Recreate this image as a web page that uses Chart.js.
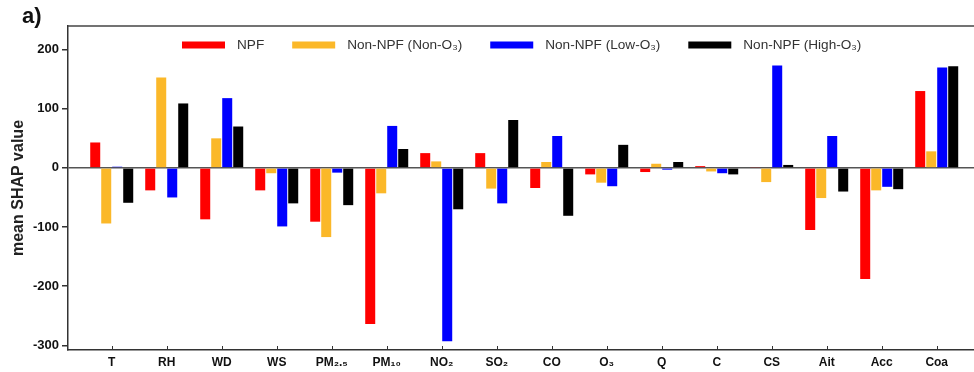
<!DOCTYPE html>
<html>
<head>
<meta charset="utf-8">
<script src="https://cdn.jsdelivr.net/npm/chart.js@4"></script>
<style>
  html, body { margin: 0; padding: 0; background: #fff; overflow: hidden; }
  #wrap { width: 974px; height: 372px; position: relative; }
</style>
</head>
<body>
<div id="wrap"><canvas id="shap"></canvas></div>
<script>
const categories = ["T", "RH", "WD", "WS", "PM₂.₅", "PM₁₀", "NO₂", "SO₂", "CO", "O₃", "Q", "C", "CS", "Ait", "Acc", "Coa"];
const seriesNames = ["NPF", "Non-NPF (Non-O₃)", "Non-NPF (Low-O₃)", "Non-NPF (High-O₃)"];
const npf    = [43, -38, -87, -38, -91, -264, 25, 25, -34, -11, -7, 3, 1, -105, -188, 130];
const nonO3  = [-94, 153, 50, -9, -117, -43, 11, -35, 10, -25, 7, -6, -24, -51, -38, 28];
const lowO3  = [2, -50, 118, -99, -8, 71, -293, -60, 54, -31, -3, -9, 173, 54, -32, 170];
const highO3 = [-59, 109, 70, -60, -63, 32, -70, 81, -81, 39, 10, -11, 5, -40, -36, 172];
const yTicks = [-300, -200, -100, 0, 100, 200];

const colors = ["#ff0000", "#fbb829", "#0000ff", "#000000"];
const allSeries = [npf, nonO3, lowO3, highO3];

const datasets = allSeries.map((vals, s) => ({
  label: seriesNames[s],
  data: vals.map((v, i) => ({ x: i, y: v })),
  backgroundColor: colors[s],
  borderWidth: 0,
  categoryPercentage: 0.8,
  barPercentage: 0.91
}));

// frame, inward x ticks, panel letter and the legend inside the plot
const extras = {
  id: "extras",
  afterDraw(chart) {
    const { ctx, chartArea } = chart;
    const xs = chart.scales.x;
    ctx.save();
    ctx.strokeStyle = "#444";
    ctx.lineWidth = 1.5;
    ctx.beginPath();
    ctx.moveTo(chartArea.left, chartArea.top);
    ctx.lineTo(chartArea.right, chartArea.top);
    ctx.stroke();

    ctx.lineWidth = 1;
    ctx.strokeStyle = "#333";
    categories.forEach((c, i) => {
      const px = Math.round(xs.getPixelForValue(i)) + 0.5;
      ctx.beginPath();
      ctx.moveTo(px, chartArea.bottom);
      ctx.lineTo(px, chartArea.bottom - 4);
      ctx.stroke();
    });

    ctx.fillStyle = "#111";
    ctx.font = "bold 22px 'Liberation Sans', Arial, sans-serif";
    ctx.textBaseline = "alphabetic";
    ctx.fillText("a)", 22, 23);

    ctx.font = "13.6px 'Liberation Sans', Arial, sans-serif";
    ctx.textBaseline = "middle";
    let x = 182;
    const y = 45;
    seriesNames.forEach((name, s) => {
      ctx.fillStyle = colors[s];
      ctx.fillRect(x, y - 3.5, 43, 7);
      ctx.fillStyle = "#333";
      ctx.fillText(name, x + 43 + 12, y);
      x += 43 + 12 + ctx.measureText(name).width + 28;
    });
    ctx.restore();
  }
};

new Chart(document.getElementById("shap"), {
  type: "bar",
  data: { datasets },
  plugins: [extras],
  options: {
    responsive: true,
    maintainAspectRatio: false,
    animation: false,
    layout: { padding: { left: 0, top: 26, right: 0, bottom: 0 } },
    plugins: {
      legend: { display: false },
      tooltip: { enabled: false }
    },
    scales: {
      x: {
        type: "linear",
        offset: false,
        min: -0.795,
        max: 15.678,
        afterFit: (scale) => { scale.height = 22; },
        afterBuildTicks: (scale) => { scale.ticks = categories.map((c, i) => ({ value: i })); },
        ticks: {
          autoSkip: false,
          maxRotation: 0,
          padding: 5,
          color: "#111",
          font: { family: "'Liberation Sans', Arial, sans-serif", size: 12, weight: "bold" },
          callback: (v) => categories[v]
        },
        grid: { display: false, drawTicks: false },
        border: { display: true, color: "#333", width: 1.5 }
      },
      y: {
        min: -308,
        max: 240,
        afterFit: (scale) => { scale.width = 68; },
        afterBuildTicks: (scale) => { scale.ticks = yTicks.map(v => ({ value: v })); },
        ticks: {
          padding: 3,
          color: "#111",
          font: { family: "'Liberation Sans', Arial, sans-serif", size: 13, weight: "bold" }
        },
        grid: {
          color: (c) => (c.tick && c.tick.value === 0 ? "#555" : "rgba(0,0,0,0)"),
          tickColor: "#333",
          tickLength: 6,
          lineWidth: 1.5
        },
        border: { display: true, color: "#333", width: 1.5 },
        title: {
          display: true,
          text: "mean SHAP value",
          color: "#222",
          padding: { top: 9, bottom: 0 },
          font: { family: "'Liberation Sans', Arial, sans-serif", size: 16, weight: "bold" }
        }
      }
    }
  }
});
</script>
</body>
</html>
